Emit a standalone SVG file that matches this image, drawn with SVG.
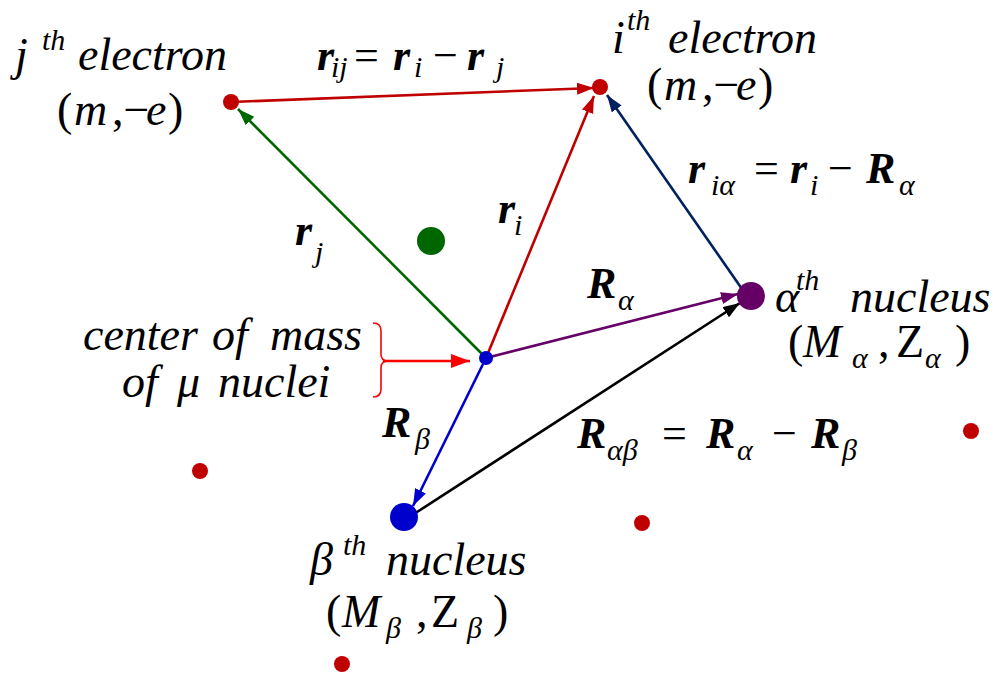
<svg xmlns="http://www.w3.org/2000/svg" width="998" height="676" viewBox="0 0 998 676">
<style>
text{font-family:'Liberation Serif','Times New Roman',serif;font-style:italic;font-size:46px;fill:#000}
.m{font-size:44px}
.b{font-weight:bold}
.n{font-style:normal}
.s{font-size:30px}
.ln{fill:none;stroke-width:2.6}
</style>
<defs>
<marker id="aR" markerUnits="userSpaceOnUse" markerWidth="18" markerHeight="14" refX="17" refY="6" orient="auto"><path d="M0,0 L17,6 L0,12 z" fill="#c00000"/></marker>
<marker id="aG" markerUnits="userSpaceOnUse" markerWidth="18" markerHeight="14" refX="17" refY="6" orient="auto"><path d="M0,0 L17,6 L0,12 z" fill="#006600"/></marker>
<marker id="aN" markerUnits="userSpaceOnUse" markerWidth="18" markerHeight="14" refX="17" refY="6" orient="auto"><path d="M0,0 L17,6 L0,12 z" fill="#002060"/></marker>
<marker id="aP" markerUnits="userSpaceOnUse" markerWidth="18" markerHeight="14" refX="17" refY="6" orient="auto"><path d="M0,0 L17,6 L0,12 z" fill="#660066"/></marker>
<marker id="aK" markerUnits="userSpaceOnUse" markerWidth="18" markerHeight="14" refX="17" refY="6" orient="auto"><path d="M0,0 L17,6 L0,12 z" fill="#000"/></marker>
<marker id="aB" markerUnits="userSpaceOnUse" markerWidth="18" markerHeight="14" refX="17" refY="6" orient="auto"><path d="M0,0 L17,6 L0,12 z" fill="#0000cc"/></marker>
<marker id="aF" markerUnits="userSpaceOnUse" markerWidth="20" markerHeight="16" refX="19" refY="7" orient="auto"><path d="M0,0 L19,7 L0,14 z" fill="#ff0000"/></marker>
</defs>
<rect width="998" height="676" fill="#fff"/>

<g id="connectors">
<line class="ln" x1="231" y1="102" x2="594" y2="88" stroke="#c00000" marker-end="url(#aR)"/>
<line class="ln" x1="486" y1="358" x2="594" y2="96" stroke="#c00000" marker-end="url(#aR)"/>
<line class="ln" x1="486" y1="358" x2="238" y2="109" stroke="#006600" marker-end="url(#aG)"/>
<line class="ln" x1="742" y1="289" x2="607" y2="95" stroke="#002060" marker-end="url(#aN)"/>
<line class="ln" x1="486" y1="358" x2="738" y2="294" stroke="#660066" marker-end="url(#aP)"/>
<line class="ln" x1="414" y1="514" x2="740" y2="303" stroke="#000" marker-end="url(#aK)"/>
<line class="ln" x1="486" y1="358" x2="413" y2="506" stroke="#0000cc" marker-end="url(#aB)"/>
<line class="ln" x1="383" y1="361" x2="470" y2="361" stroke="#ff0000" stroke-width="3" marker-end="url(#aF)"/>
<path d="M373,323 Q381,323 381,331 L381,354 Q381,361 388,361 Q381,361 381,368 L381,389 Q381,397 373,397" fill="none" stroke="#ff0000" stroke-width="1.6"/>
</g>

<g id="electron-j">
<circle cx="231" cy="102" r="8" fill="#c00000"/>
<text x="15" y="70">j</text>
<text x="42" y="50" class="s">th</text>
<text x="78" y="70">electron</text>
<text x="57" y="125" class="n">(</text>
<text x="74" y="125">m</text>
<text x="112" y="125" class="n">,−</text>
<text x="146" y="125">e</text>
<text x="168" y="125" class="n">)</text>
</g>

<g id="electron-i">
<circle cx="600" cy="87" r="8" fill="#c00000"/>
<text x="612" y="53">i</text>
<text x="627" y="30" class="s">th</text>
<text x="668" y="53">electron</text>
<text x="647" y="100" class="n">(</text>
<text x="664" y="100">m</text>
<text x="702" y="100" class="n">,−</text>
<text x="736" y="100">e</text>
<text x="758" y="100" class="n">)</text>
</g>

<g id="label-rij">
<text x="317" y="70" class="m b">r</text>
<text x="331" y="77" class="s">ij</text>
<text x="354" y="70" class="m n">=</text>
<text x="393" y="70" class="m b">r</text>
<text x="414" y="77" class="s">i</text>
<text x="433" y="70" class="m n">−</text>
<text x="467" y="70" class="m b">r</text>
<text x="496" y="77" class="s">j</text>
</g>

<g id="label-ria">
<text x="688" y="183" class="m b">r</text>
<text x="711" y="195" class="s">iα</text>
<text x="754" y="183" class="m n">=</text>
<text x="790" y="183" class="m b">r</text>
<text x="810" y="195" class="s">i</text>
<text x="828" y="183" class="m n">−</text>
<text x="866" y="183" class="m b">R</text>
<text x="899" y="195" class="s">α</text>
</g>

<g id="label-rj">
<text x="295" y="245" class="m b">r</text>
<text x="315" y="262" class="s">j</text>
</g>

<g id="label-ri">
<text x="498" y="223" class="m b">r</text>
<text x="514" y="235" class="s">i</text>
</g>

<g id="green-particle">
<circle cx="431" cy="241" r="14" fill="#006600"/>
</g>

<g id="center-of-mass">
<circle cx="486" cy="358" r="7" fill="#0000cc"/>
<text x="83" y="350">center</text>
<text x="212" y="350">of</text>
<text x="270" y="350">mass</text>
<text x="122" y="397">of</text>
<text x="177" y="397">μ</text>
<text x="218" y="397">nuclei</text>
</g>

<g id="label-Ra">
<text x="587" y="298" class="m b">R</text>
<text x="618" y="310" class="s">α</text>
</g>

<g id="nucleus-alpha">
<circle cx="751" cy="296" r="14" fill="#660066"/>
<text x="775" y="312">α</text>
<text x="796" y="290" class="s">th</text>
<text x="850" y="312">nucleus</text>
<text x="788" y="357" class="n">(</text>
<text x="803" y="357">M</text>
<text x="852" y="368" class="s">α</text>
<text x="878" y="357" class="n">,</text>
<text x="896" y="357" class="n">Z</text>
<text x="925" y="368" class="s">α</text>
<text x="955" y="357" class="n">)</text>
</g>

<g id="label-Rab">
<text x="577" y="448" class="m b">R</text>
<text x="607" y="460" class="s">αβ</text>
<text x="662" y="448" class="m n">=</text>
<text x="706" y="448" class="m b">R</text>
<text x="737" y="460" class="s">α</text>
<text x="772" y="448" class="m n">−</text>
<text x="811" y="448" class="m b">R</text>
<text x="842" y="460" class="s">β</text>
</g>

<g id="label-Rb">
<text x="382" y="437" class="m b">R</text>
<text x="415" y="449" class="s">β</text>
</g>

<g id="nucleus-beta">
<circle cx="404" cy="517" r="14" fill="#0000cc"/>
<text x="310" y="575">β</text>
<text x="343" y="555" class="s">th</text>
<text x="386" y="575">nucleus</text>
<text x="326" y="627" class="n">(</text>
<text x="342" y="627">M</text>
<text x="386" y="638" class="s">β</text>
<text x="416" y="627" class="n">,</text>
<text x="431" y="627" class="n">Z</text>
<text x="467" y="638" class="s">β</text>
<text x="493" y="627" class="n">)</text>
</g>

<g id="electrons-other">
<circle cx="200" cy="471" r="8" fill="#c00000"/>
<circle cx="642" cy="523" r="8" fill="#c00000"/>
<circle cx="971" cy="431" r="8" fill="#c00000"/>
<circle cx="342" cy="664" r="8" fill="#c00000"/>
</g>
</svg>
